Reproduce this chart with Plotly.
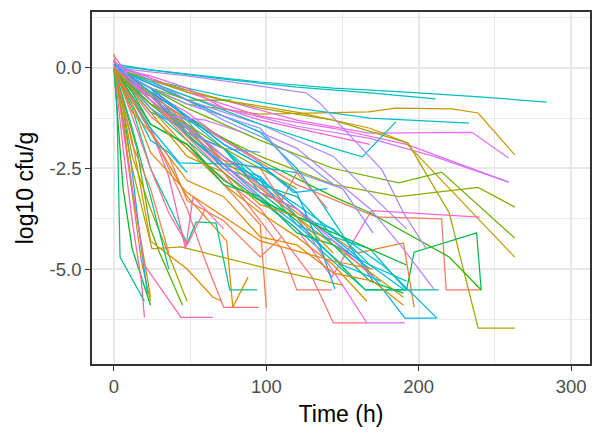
import math
import plotly.graph_objects as go

# ---- data: each subject's sampling times (h) and log10 cfu/g change ----
times = [
    [0, 24, 48, 96, 144, 192, 240, 284],
    [0, 24, 72, 120, 168, 211],
    [0, 24, 48, 96, 167, 185, 222, 239, 263],
    [0, 24, 72, 120, 168, 233],
    [0, 24, 72, 120, 167, 235, 259],
    [0, 48, 96, 144, 192, 259],
    [0, 24, 72, 120, 168, 210, 259],
    [0, 24, 72, 120, 168, 191, 263],
    [0, 48, 96, 144, 193, 220, 239, 263],
    [0, 48, 96, 144, 187, 215, 263],
    [0, 48, 96, 144, 187, 239, 263],
    [0, 24, 72, 120, 143, 169, 240],
    [0, 24, 72, 120, 165, 192, 197, 238, 241],
    [0, 24, 72, 120, 172, 215, 218, 241],
    [0, 24, 72, 120, 165, 213],
    [0, 24, 72, 120, 160, 190, 197],
    [0, 24, 72, 120, 160, 191, 212],
    [0, 24, 72, 120, 178, 212],
    [0, 24, 48, 96, 130, 144, 166],
    [0, 24, 72, 120, 150, 166, 191],
    [0, 12, 24, 48, 72, 96, 120, 144, 168, 190],
    [0, 24, 48, 72, 96, 120, 144, 168, 192],
    [0, 24, 48, 72, 96, 120, 144, 168, 192],
    [0, 24, 48, 72, 96, 120, 144, 168],
    [0, 24, 48, 72, 96, 120, 150, 175],
    [0, 24, 48, 72, 96, 120, 144, 166],
    [0, 24, 48, 96, 144, 190],
    [0, 48, 96, 144, 168, 220, 241],
    [0, 48, 96, 144, 170, 192],
    [0, 24, 72, 120, 168, 190, 210],
    [0, 48, 96, 120, 137, 170],
    [0, 48, 96, 144, 163, 185],
    [0, 48, 96, 126, 135, 176, 190, 205],
    [0, 24, 48, 72, 96, 110, 120, 140],
    [0, 3, 6, 12, 24],
    [0, 6, 12, 18, 24],
    [0, 12, 24],
    [0, 6, 12, 18, 20],
    [0, 6, 12, 18, 22],
    [0, 2, 4, 10, 20],
    [0, 6, 12, 20, 44, 65],
    [0, 6, 15, 24, 30, 45],
    [0, 12, 25, 44, 97, 150],
    [0, 12, 24, 48, 65, 71],
    [0, 24, 48, 74, 78, 88],
    [0, 24, 48, 60, 72, 95],
    [0, 24, 48, 72, 96, 100],
    [0, 12, 24, 48, 54, 67, 76, 94],
    [0, 12, 24, 36, 48, 60],
    [0, 12, 24, 36, 47, 52, 72],
    [0, 12, 24, 48, 72, 96],
    [0, 24, 72, 110, 120, 143],
    [0, 24, 49, 77],
    [0, 24, 48, 72, 96, 120, 136, 145],
    [0, 24, 48, 72, 96, 120, 144],
    [0, 24, 48, 72, 96, 120, 144, 168],
    [0, 12, 24, 48, 72, 96, 120, 144, 170],
    [0, 12, 24, 48, 72, 96, 120, 144, 168, 190],
    [0, 12, 24, 48, 72, 96, 120, 144, 170, 190],
    [0, 6, 12, 24, 48],
    [0, 12, 24, 36],
    [0, 12, 24, 48, 72, 96],
    [0, 6, 12, 24, 36],
    [0, 12, 24, 48, 72, 96, 120],
    [0, 12, 24, 43, 82, 120],
    [0, 24, 48, 96, 120, 150, 170],
    [0, 24, 48, 72, 96, 118, 140],
    [0, 24, 48, 72, 96, 144, 192],
    [0, 24, 36, 48, 72, 96, 110],
    [0, 12, 24, 36, 48],
    [0, 12, 24, 36, 60, 84],
    [0, 24, 48, 72, 96, 120, 144],
    [0, 12, 24, 48, 96, 144, 170],
]

log_cfu = [
    [0.05, -0.05, -0.15, -0.35, -0.5, -0.6, -0.72, -0.85],
    [0.1, -0.05, -0.28, -0.48, -0.62, -0.77],
    [0, -0.5, -0.9, -1.15, -1.09, -1.0, -1.02, -1.12, -2.16],
    [0, -0.3, -0.7, -1.0, -1.25, -1.37],
    [0, -0.3, -0.8, -1.3, -1.62, -1.6, -2.24],
    [0.1, -0.6, -1.2, -1.5, -1.9, -2.84],
    [0, -0.4, -1.0, -1.45, -1.75, -2.2, -2.84],
    [0, -0.3, -0.8, -1.1, -1.5, -1.84, -4.7],
    [0, -0.6, -1.0, -1.3, -1.87, -3.6, -6.47, -6.47],
    [0, -1.0, -1.8, -2.5, -2.86, -2.59, -4.23],
    [0, -1.3, -2.2, -2.9, -3.2, -2.97, -3.46],
    [0, -0.8, -2.5, -4.0, -5.2, -3.55, -3.71],
    [0, -0.9, -2.4, -3.8, -5.52, -5.52, -4.58, -4.1, -5.52],
    [0, -0.7, -1.8, -2.9, -3.7, -3.75, -5.52, -5.52],
    [0, -1.0, -2.6, -4.0, -5.52, -5.52],
    [0, -0.8, -2.2, -3.6, -4.6, -4.35, -5.95],
    [0, -0.5, -2.0, -3.5, -4.7, -6.22, -6.22],
    [0, -0.7, -2.2, -3.4, -4.95, -6.22],
    [0, -1.2, -2.0, -3.5, -5.2, -6.34, -6.34],
    [0, -0.6, -2.2, -3.7, -5.4, -6.34, -6.34],
    [0, -0.5, -0.7, -1.6, -2.0, -3.1, -3.5, -4.4, -4.9, -5.5],
    [0, -0.9, -1.3, -2.4, -2.7, -3.7, -4.0, -4.9, -5.3],
    [0, -0.5, -1.6, -2.0, -2.9, -3.2, -4.2, -4.5, -5.52],
    [0, -1.1, -1.5, -2.5, -2.8, -3.9, -4.3, -5.0],
    [0, -0.6, -1.7, -2.4, -3.2, -3.9, -4.9, -5.3],
    [0, -1.0, -2.0, -2.9, -3.6, -4.2, -4.9, -5.8],
    [0, -0.8, -1.6, -3.0, -4.4, -5.7],
    [0, -1.2, -2.3, -3.2, -3.6, -4.7, -5.52],
    [0, -0.8, -1.4, -2.2, -3.2, -4.0],
    [0, -0.4, -1.2, -2.0, -3.5, -4.5, -5.5],
    [0, -0.8, -1.6, -2.5, -3.4, -5.3],
    [0, -0.7, -1.4, -2.0, -2.21, -1.34],
    [0, -0.2, -0.45, -0.62, -0.87, -2.54, -3.6, -4.5],
    [0, -0.6, -1.4, -2.3, -2.5, -3.3, -2.6, -3.5],
    [0, -1.5, -3.0, -4.5, -5.9],
    [0.2, -1.5, -3.2, -4.8, -5.8],
    [0.35, -3.0, -5.7],
    [0.1, -2.0, -3.8, -5.3, -6.2],
    [0, -1.0, -2.6, -4.5, -5.6],
    [0, -1.0, -4.7, -5.1, -5.8],
    [0.2, -1.5, -3.0, -4.9, -6.2, -6.2],
    [0, -0.8, -2.0, -4.0, -4.6, -5.9],
    [0, -2.5, -4.5, -4.45, -4.95, -5.4],
    [0, -1.8, -4.3, -5.0, -5.7, -5.8],
    [0, -1.6, -3.2, -4.3, -5.95, -5.2],
    [0, -1.5, -3.5, -4.8, -5.95, -5.95],
    [0, -0.8, -1.8, -2.9, -3.9, -5.97],
    [0, -1.0, -2.5, -4.36, -3.83, -3.86, -5.52, -5.52],
    [0, -1.2, -2.5, -3.6, -4.4, -3.5],
    [0, -0.8, -1.5, -2.7, -4.5, -3.2, -4.0],
    [0.3, -0.3, -0.6, -1.1, -1.8, -2.3],
    [0, -0.8, -2.6, -4.5, -5.52, -5.52],
    [0, -0.5, -0.8, -0.8],
    [0, -0.5, -1.2, -1.9, -2.4, -3.1, -4.5, -5.5],
    [0.1, -0.3, -0.8, -1.3, -1.7, -2.2, -2.9],
    [0, -0.2, -0.5, -1.0, -1.3, -1.5, -1.7, -1.9],
    [0, -0.4, -0.7, -1.5, -2.4, -3.1, -3.5, -4.3, -5.2],
    [0, -0.6, -1.4, -1.9, -2.9, -3.2, -4.1, -4.4, -5.3, -5.6],
    [0, -1.1, -1.6, -2.8, -3.2, -4.2, -4.4, -5.1, -5.3, -5.9],
    [0, -1.0, -2.2, -3.5, -5.8],
    [0, -1.5, -3.2, -5.0],
    [0, -0.5, -1.0, -1.6, -2.0, -2.1],
    [0, -0.9, -1.9, -3.0, -4.6],
    [0, -0.5, -0.9, -1.4, -2.0, -2.5, -3.0],
    [0, -0.8, -1.5, -2.36, -2.4, -2.6],
    [0, -0.5, -0.9, -1.5, -2.6, -3.0, -4.1],
    [0.1, -0.6, -1.2, -1.9, -2.4, -3.1, -3.0],
    [0, -1.4, -1.9, -2.8, -3.3, -4.1, -4.9],
    [0, -1.6, -2.2, -3.3, -3.8, -4.7, -4.2],
    [0, -0.9, -1.8, -2.1, -2.6],
    [0.2, -0.3, -0.8, -1.2, -1.3, -1.6],
    [0, -1.1, -2.2, -2.6, -3.4, -3.7, -4.6],
    [0, -0.9, -2.1, -3.1, -4.3, -4.8, -5.0],
]

# ---- style: hue (degrees) of each subject's colour, ggplot-like HCL palette ----
series_hue = [190, 195, 60, 200, 300, 310, 290, 70, 85, 110, 100, 320, 140, 20, 170,
              35, 230, 215, 10, 305, 225, 205, 180, 235, 220, 50, 65, 125, 270, 280,
              195, 185, 275, 15, 130, 75, 68, 340, 240, 160, 345, 120, 80, 45, 40,
              12, 30, 175, 5, 350, 315, 18, 115, 245, 260, 325, 335, 145, 42, 90,
              165, 255, 25, 105, 210, 265, 235, 135, 22, 200, 295, 72, 38]


def hcl_to_hex(h, c=100.0, l=65.0):
    hr = math.radians(h)
    u = c * math.cos(hr)
    v = c * math.sin(hr)
    Xn, Yn, Zn = 95.047, 100.0, 108.883
    Y = Yn * ((l + 16) / 116) ** 3
    den = Xn + 15 * Yn + 3 * Zn
    un, vn = 4 * Xn / den, 9 * Yn / den
    up = u / (13 * l) + un
    vp = v / (13 * l) + vn
    X = Y * 9 * up / (4 * vp)
    Z = Y * (12 - 3 * up - 20 * vp) / (4 * vp)
    x, y, z = X / 100, Y / 100, Z / 100
    rgb = [3.2404542 * x - 1.5371385 * y - 0.4985314 * z,
           -0.9692660 * x + 1.8760108 * y + 0.0415560 * z,
           0.0556434 * x - 0.2040259 * y + 1.0572252 * z]
    out = []
    for ch in rgb:
        if ch <= 0:
            ch = 0.0
        elif ch <= 0.0031308:
            ch = 12.92 * ch
        else:
            ch = 1.055 * (ch ** (1 / 2.4)) - 0.055
        out.append(int(round(max(0, min(1, ch)) * 255)))
    return "#%02X%02X%02X" % tuple(out)


fig = go.Figure()
for i, (t, y) in enumerate(zip(times, log_cfu)):
    fig.add_trace(go.Scatter(
        x=t, y=y, mode="lines",
        line=dict(color=hcl_to_hex(series_hue[i % len(series_hue)]), width=1.25),
        showlegend=False, hoverinfo="skip",
    ))

x_ticks = [0, 100, 200, 300]
y_ticks = [0, -2.5, -5]
y_tick_text = ["0.0", "-2.5", "-5.0"]

fig.update_layout(
    width=596, height=435,
    margin=dict(l=92, r=4, t=12, b=71),
    paper_bgcolor="white", plot_bgcolor="white",
    font=dict(family="Liberation Sans, Arial, sans-serif"),
    showlegend=False,
)
fig.update_xaxes(
    range=[-14.4, 312.4], tickvals=x_ticks, ticktext=[str(v) for v in x_ticks],
    showgrid=True, gridcolor="#E8E8E8", gridwidth=1.5,
    minor=dict(tickvals=[50, 150, 250], showgrid=True, gridcolor="#EBEBEB", gridwidth=1),
    zeroline=False, showline=True, mirror=True, linecolor="#333333", linewidth=1.6,
    ticks="outside", ticklen=5, tickwidth=1.4, tickcolor="#333333",
    tickfont=dict(size=18.5, color="#4D4D4D"),
    title=dict(text="Time (h)", font=dict(size=23, color="black"), standoff=10),
)
fig.update_yaxes(
    range=[-7.36, 1.39], tickvals=y_ticks, ticktext=y_tick_text,
    showgrid=True, gridcolor="#E8E8E8", gridwidth=1.5,
    minor=dict(tickvals=[1.25, -1.25, -3.75, -6.25], showgrid=True, gridcolor="#EBEBEB", gridwidth=1),
    zeroline=False, showline=True, mirror=True, linecolor="#333333", linewidth=1.6,
    ticks="outside", ticklen=5, tickwidth=1.4, tickcolor="#333333",
    tickfont=dict(size=18.5, color="#4D4D4D"),
    title=dict(text="log10 cfu/g", font=dict(size=23, color="black"), standoff=10),
)

fig.write_html("out.html")
